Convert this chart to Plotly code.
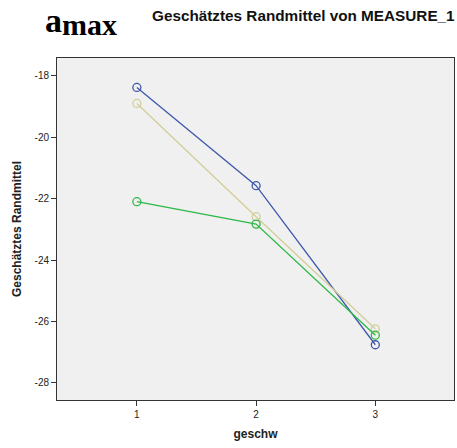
import plotly.graph_objects as go

# Estimated marginal means of MEASURE_1 per speed level (geschw)
geschw = [1, 2, 3]
series_blue = [-18.38, -21.58, -26.76]
series_beige = [-18.90, -22.59, -26.24]
series_green = [-22.10, -22.83, -26.45]

y_ticks = [-18, -20, -22, -24, -26, -28]

fig = go.Figure()

for vals, color in [
    (series_blue, "#3E58AC"),
    (series_beige, "#D3CE97"),
    (series_green, "#2EB848"),
]:
    fig.add_trace(go.Scatter(
        x=geschw, y=vals, mode="lines+markers",
        line=dict(color=color, width=1.3),
        marker=dict(symbol="circle-open", size=8, color=color, line=dict(width=1.3)),
        showlegend=False,
    ))

serif = "Liberation Serif, Times New Roman, serif"

fig.update_layout(
    width=457, height=448,
    margin=dict(l=57, r=3, t=58, b=48),
    paper_bgcolor="white",
    plot_bgcolor="#F0F0F0",
    font=dict(family="Liberation Sans, Arial, sans-serif", color="#222"),
    xaxis=dict(
        range=[0.33, 3.66], tickvals=geschw, ticktext=[str(v) for v in geschw],
        showgrid=False, zeroline=False,
        showline=True, linecolor="#333", linewidth=1, mirror=True,
        ticks="outside", ticklen=5, tickcolor="#333",
        tickfont=dict(size=10, color="#222"),
        title=dict(text="<b>geschw</b>", font=dict(size=12, color="#222"), standoff=10),
    ),
    yaxis=dict(
        range=[-28.56, -17.42], tickvals=y_ticks, ticktext=[str(v) for v in y_ticks],
        showgrid=False, zeroline=False,
        showline=True, linecolor="#333", linewidth=1, mirror=True,
        ticks="outside", ticklen=5, tickcolor="#333",
        tickfont=dict(size=10, color="#222"),
        title=dict(text="<b>Geschätztes Randmittel</b>", font=dict(size=12, color="#222"), standoff=10),
    ),
    annotations=[
        dict(text="<b>a</b>", xref="paper", yref="paper",
             x=-0.036, y=1.1696, xanchor="left", yanchor="top",
             showarrow=False, font=dict(family=serif, size=34, color="#000")),
        dict(text="<b>max</b>", xref="paper", yref="paper",
             x=0.008, y=1.098, xanchor="left", yanchor="middle",
             showarrow=False, font=dict(family=serif, size=30, color="#000")),
        dict(text="<b>Geschätztes Randmittel von MEASURE_1</b>", xref="paper", yref="paper",
             x=1.008, y=1.1257, xanchor="right", yanchor="middle",
             showarrow=False, font=dict(size=15.3, color="#111")),
    ],
)

fig.write_html("out.html")
